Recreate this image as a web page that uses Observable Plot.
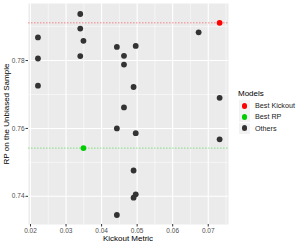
<!DOCTYPE html>
<html>
<head>
<meta charset="utf-8">
<script src="https://cdn.jsdelivr.net/npm/d3@7"></script>
<script src="https://cdn.jsdelivr.net/npm/@observablehq/plot@0.6"></script>
<style>
  body { margin: 0; background: #fff; font-family: "Liberation Sans", Arial, sans-serif; }
  #wrap { position: relative; width: 297px; height: 248px; }
  #legend { position: absolute; left: 238px; top: 89px; font-size: 7.2px; color: #1a1a1a; }
  #legend .title { font-size: 8px; margin-bottom: 2px; color: #000; }
  #legend .row { display: flex; align-items: center; height: 11.3px; }
  #legend .key { width: 11px; height: 11px; background: #f2f2f2; display: flex; align-items: center; justify-content: center; margin-right: 5px; margin-left: 1px; }
  #legend .dot { width: 5.8px; height: 5.8px; border-radius: 50%; }
</style>
</head>
<body>
<div id="wrap"></div>
<script>
// Kickout metric (x) and RP on the unbiased sample (y)
const kickout = [0.034, 0.034, 0.0221, 0.0349, 0.0443, 0.0496, 0.0463, 0.034, 0.0221, 0.0463,
                 0.0221, 0.0490, 0.0463, 0.0443, 0.0496, 0.0490, 0.0490, 0.0496, 0.0443,
                 0.0673, 0.0732, 0.0732, 0.0732, 0.0349];
const rp      = [0.7937, 0.7894, 0.7868, 0.7858, 0.7840, 0.7843, 0.7814, 0.7813, 0.7806, 0.7788,
                 0.7726, 0.7722, 0.7662, 0.7600, 0.7586, 0.7476, 0.7396, 0.7406, 0.7345,
                 0.7883, 0.7690, 0.7568, 0.7911, 0.7542];
const model   = ["Others","Others","Others","Others","Others","Others","Others","Others","Others","Others",
                 "Others","Others","Others","Others","Others","Others","Others","Others","Others",
                 "Others","Others","Others","Best Kickout","Best RP"];
const categories = ["Best Kickout", "Best RP", "Others"];
const colors = ["#ff0000", "#00cd00", "#333333"];
const xTicks = [0.02, 0.03, 0.04, 0.05, 0.06, 0.07];
const yTicks = [0.74, 0.76, 0.78];
const xMinor = [0.025, 0.035, 0.045, 0.055, 0.065, 0.075];
const yMinor = [0.75, 0.77, 0.79];
const bestKickoutRP = [0.7911];
const bestRP = [0.7542];

const data = kickout.map((k, i) => ({k, rp: rp[i], model: model[i]}));
const others = data.filter(d => d.model === "Others");
const highlighted = data.filter(d => d.model !== "Others");

const plot = Plot.plot({
  width: 297,
  height: 248,
  marginLeft: 28,
  marginTop: 3,
  marginRight: 69,
  marginBottom: 24,
  style: {fontFamily: "Liberation Sans, Arial, sans-serif", background: "transparent"},
  x: {domain: [0.01944, 0.0757], label: null},
  y: {domain: [0.7317, 0.7968], label: null},
  color: {domain: categories, range: colors},
  marks: [
    Plot.frame({fill: "#ebebeb", stroke: null}),
    Plot.gridX(xMinor, {stroke: "#ffffff", strokeOpacity: 1, strokeWidth: 0.5}),
    Plot.gridY(yMinor, {stroke: "#ffffff", strokeOpacity: 1, strokeWidth: 0.5}),
    Plot.gridX(xTicks, {stroke: "#ffffff", strokeOpacity: 1, strokeWidth: 1.1}),
    Plot.gridY(yTicks, {stroke: "#ffffff", strokeOpacity: 1, strokeWidth: 1.1}),
    Plot.axisX(xTicks, {tickSize: 2.5, tickPadding: 1.5, stroke: "#333333", fill: "#4d4d4d", fontSize: 6.5, tickFormat: d3.format(".2f"), label: null}),
    Plot.axisY(yTicks, {tickSize: 2.5, tickPadding: 1.5, stroke: "#333333", fill: "#4d4d4d", fontSize: 6.5, tickFormat: d3.format(".2f"), label: null}),
    Plot.ruleY(bestKickoutRP, {stroke: "#ff0000", strokeOpacity: 0.45, strokeWidth: 1, strokeDasharray: "1.5,1.5"}),
    Plot.ruleY(bestRP, {stroke: "#00cd00", strokeOpacity: 0.45, strokeWidth: 1, strokeDasharray: "1.5,1.5"}),
    Plot.dot(others, {x: "k", y: "rp", r: 2.9, fill: "model", stroke: null}),
    Plot.dot(highlighted, {x: "k", y: "rp", r: 2.9, fill: "model", stroke: null})
  ]
});

const wrap = document.getElementById("wrap");
wrap.appendChild(plot);

// Axis titles
const svg = d3.select(plot);
svg.append("text").attr("x", 128).attr("y", 241).attr("text-anchor", "middle")
  .attr("font-size", 8).attr("fill", "#000").text("Kickout Metric");
svg.append("text").attr("transform", "translate(8.5,114) rotate(-90)").attr("text-anchor", "middle")
  .attr("font-size", 8).attr("fill", "#000").text("RP on the Unbiased Sample");

// Legend
const legend = d3.select(wrap).append("div").attr("id", "legend");
legend.append("div").attr("class", "title").text("Models");
categories.forEach((c, i) => {
  const row = legend.append("div").attr("class", "row");
  row.append("div").attr("class", "key").append("div").attr("class", "dot").style("background", colors[i]);
  row.append("span").text(c);
});
</script>
</body>
</html>
